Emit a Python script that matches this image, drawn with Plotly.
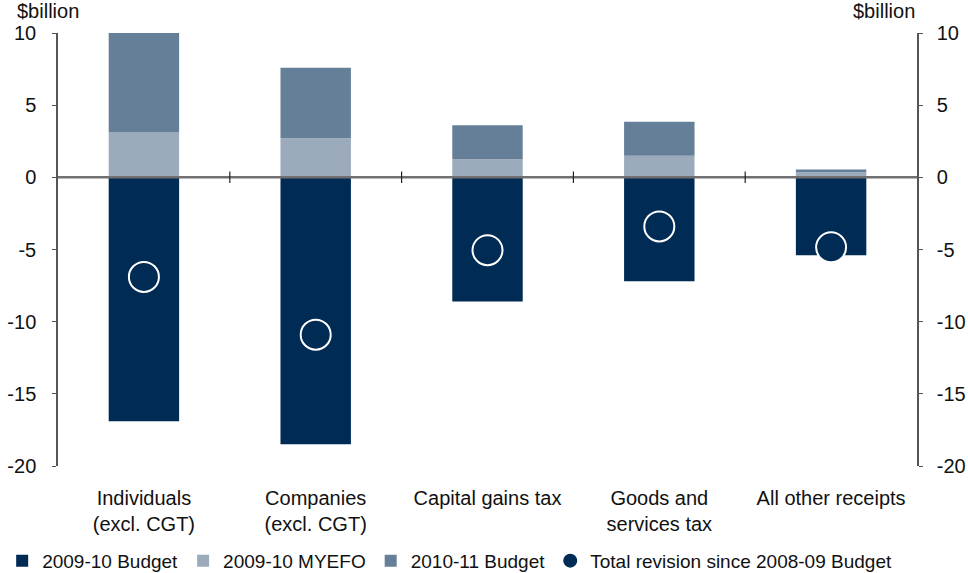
import plotly.graph_objects as go

categories = ["Individuals<br>(excl. CGT)", "Companies<br>(excl. CGT)", "Capital gains tax",
              "Goods and<br>services tax", "All other receipts"]
budget_0910 = [-16.9, -18.5, -8.6, -7.2, -5.4]
myefo_0910 = [3.1, 2.7, 1.25, 1.5, 0.35]
budget_1011 = [7.0, 4.9, 2.35, 2.35, 0.2]
total_revision = [-6.9, -10.9, -5.05, -3.4, -4.85]
y_ticks = [10, 5, 0, -5, -10, -15, -20]
y_tick_text = ["10", "5", "0", "-5", "-10", "-15", "-20"]

NAVY = "#002B54"
LIGHT = "#9BABBC"
MID = "#667F98"
FONT = "Liberation Sans, Arial, sans-serif"
FS = 20

x_idx = list(range(len(categories)))

fig = go.Figure()
fig.add_bar(x=x_idx, y=budget_0910, name="2009-10 Budget", marker=dict(color=NAVY, line=dict(width=0)), width=0.41)
fig.add_bar(x=x_idx, y=myefo_0910, name="2009-10 MYEFO", marker=dict(color=LIGHT, line=dict(width=0)), width=0.41)
fig.add_bar(x=x_idx, y=budget_1011, name="2010-11 Budget", marker=dict(color=MID, line=dict(width=0)), width=0.41)
fig.add_scatter(x=x_idx, y=total_revision, mode="markers", name="Total revision since 2008-09 Budget",
                marker=dict(color=NAVY, size=30, line=dict(color="white", width=2)))
fig.add_scatter(x=x_idx, y=total_revision, yaxis="y2", mode="markers", showlegend=False,
                marker=dict(opacity=0), hoverinfo="skip")

# zero line and category separator ticks
shapes = [dict(type="line", xref="paper", yref="y", x0=0, x1=1, y0=0, y1=0,
               line=dict(color="#707070", width=2.5), layer="above")]
for i in range(len(categories) - 1):
    shapes.append(dict(type="line", xref="x", yref="y", x0=i + 0.5, x1=i + 0.5, y0=-0.4, y1=0.4,
                       line=dict(color="#222222", width=1.2), layer="above"))

axis_common = dict(range=[-20, 10], tickvals=y_ticks, ticktext=y_tick_text, showgrid=False, zeroline=False,
                   showline=True, linecolor="#555555", linewidth=1.5, ticks="outside",
                   ticklen=4, tickcolor="#555555", tickfont=dict(size=FS, color="#111111", family=FONT))

fig.update_layout(
    barmode="relative",
    width=968, height=573,
    margin=dict(l=58, r=51, t=33, b=107, autoexpand=False),
    plot_bgcolor="white", paper_bgcolor="white",
    font=dict(family=FONT, size=FS, color="#111111"),
    xaxis=dict(tickvals=x_idx, ticktext=categories, range=[-0.5, len(categories) - 0.5],
               showgrid=False, zeroline=False, showline=False, ticks="", ticklen=0,
               ticklabelstandoff=18,
               tickfont=dict(size=FS, family=FONT, color="#111111")),
    yaxis=dict(**axis_common, side="left", ticklabelstandoff=12),
    yaxis2=dict(**axis_common, side="right", overlaying="y", matches="y", ticklabelstandoff=10),
    shapes=shapes,
    legend=dict(orientation="h", x=-0.065, xanchor="left", y=-0.175, yanchor="top",
                font=dict(size=19, family=FONT), itemwidth=30, tracegroupgap=0,
                bgcolor="rgba(0,0,0,0)"),
    annotations=[
        dict(text="$billion", xref="paper", yref="paper", x=-0.05, y=1.0, xanchor="left", yanchor="bottom",
             yshift=9, showarrow=False, font=dict(size=FS, family=FONT)),
        dict(text="$billion", xref="paper", yref="paper", x=1.0, y=1.0, xanchor="right", yanchor="bottom",
             yshift=9, showarrow=False, font=dict(size=FS, family=FONT)),
    ],
)

fig.write_html("out.html")
